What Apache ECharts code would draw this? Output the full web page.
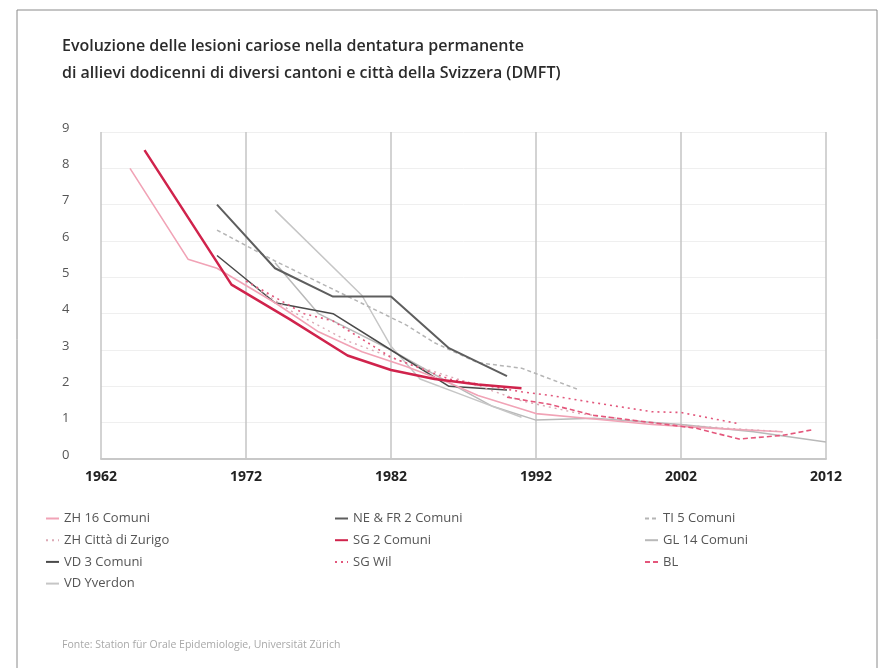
<!DOCTYPE html>
<html>
<head>
<meta charset="utf-8">
<script src="https://cdn.jsdelivr.net/npm/echarts@6/dist/echarts.min.js"></script>
<style>
html,body{margin:0;padding:0;background:#fff;}
#c{width:884px;height:668px;}
</style>
</head>
<body>
<div id="c"></div>
<script>
// ---- data (year, DMFT) ----
var xTicks = [1962, 1972, 1982, 1992, 2002, 2012];
var yTicks = [0,1,2,3,4,5,6,7,8,9];

var zh16 = [[1964,8.0],[1968,5.5],[1970,5.25],[1974,4.3],[1977,3.5],[1980,2.95],[1983,2.55],[1986,2.1],[1988,1.75],[1992,1.25],[1996,1.1],[2000,0.95],[2004,0.85],[2009,0.75]];
var zhCitta = [[1972,4.9],[1975,4.1],[1979,3.25],[1983,2.65],[1987,2.15],[1991,1.6],[1995,1.25],[2000,1.0],[2005,0.85],[2009,0.75]];
var vd3 = [[1970,5.6],[1974,4.3],[1978,4.0],[1982,3.0],[1986,2.0],[1990,1.9]];
var vdYverdon = [[1974,6.85],[1980,4.5],[1982,3.1],[1984,2.2],[1987,1.75],[1991,1.15]];
var neFr = [[1970,7.0],[1974,5.25],[1978,4.47],[1982,4.47],[1986,3.05],[1990,2.28]];
var sg2 = [[1965,8.5],[1971,4.8],[1975,3.85],[1979,2.85],[1982,2.45],[1985,2.2],[1988,2.05],[1991,1.95]];
var sgWil = [[1972,4.9],[1976,4.0],[1978,3.8],[1982,2.8],[1986,2.2],[1991,1.85],[1993,1.75],[1996,1.55],[2000,1.3],[2002,1.28],[2006,0.97]];
var ti5 = [[1970,6.3],[1974,5.45],[1983,3.7],[1985,3.2],[1988,2.65],[1991,2.5],[1995,1.9]];
var gl14 = [[1974,5.4],[1977,4.0],[1982,3.0],[1986,2.1],[1989,1.45],[1992,1.07],[1996,1.12],[2002,0.95],[2007,0.75],[2012,0.47]];
var bl = [[1990,1.7],[1993,1.5],[1996,1.2],[2000,1.0],[2003,0.85],[2006,0.55],[2009,0.65],[2011,0.8]];

var names = ['ZH 16 Comuni','ZH Città di Zurigo','VD 3 Comuni','VD Yverdon','NE & FR 2 Comuni','SG 2 Comuni','SG Wil','TI 5 Comuni','GL 14 Comuni','BL'];

function s(name, data, color, width, type) {
  return {
    name: name, type: 'line', data: data, symbol: 'none', smooth: false,
    lineStyle: {color: color, width: width, type: type || 'solid'},
    itemStyle: {color: color},
    z: 3
  };
}

function legend(items, left) {
  return {
    data: items, orient: 'vertical', left: left, top: 512, padding: 0,
    itemWidth: 13, itemHeight: 8, itemGap: 8.7,
    itemStyle: {opacity: 0},
    textStyle: {color: '#555', fontSize: 13, fontFamily: 'Open Sans'}
  };
}

var chart = echarts.init(document.getElementById('c'));
chart.setOption({
  animation: false,
  backgroundColor: '#fff',
  title: {
    text: 'Evoluzione delle lesioni cariose nella dentatura permanente\ndi allievi dodicenni di diversi cantoni e città della Svizzera (DMFT)',
    left: 62, top: 33, padding: 0,
    textStyle: {fontFamily: 'Open Sans', fontWeight: 600, fontSize: 16, color: '#2b2b2b', lineHeight: 27}
  },
  graphic: [
    {type: 'rect', shape: {x: 17, y: 10, width: 860, height: 700}, style: {fill: 'none', stroke: '#8a8a8a', lineWidth: 1}, silent: true},
    {type: 'text', left: 62, top: 640, style: {text: 'Fonte: Station für Orale Epidemiologie, Universität Zürich', fill: '#a8a8a8', fontSize: 10.5, fontFamily: 'Open Sans'}}
  ],
  grid: {left: 101, right: 58, top: 132, bottom: 209, containLabel: false},
  xAxis: {
    type: 'value', min: 1962, max: 2012, interval: 10,
    axisLine: {show: true, lineStyle: {color: '#c8c8c8', width: 2}},
    axisTick: {show: false},
    splitLine: {show: true, lineStyle: {color: '#c4c4c4', width: 1.5}},
    axisLabel: {margin: 11, color: '#222', fontWeight: 'bold', fontSize: 14, fontFamily: 'Open Sans', formatter: function (v) { return String(v); }}
  },
  yAxis: {
    type: 'value', min: 0, max: 9, interval: 1,
    axisLine: {show: false}, axisTick: {show: false},
    splitLine: {show: true, lineStyle: {color: '#efefef', width: 1}},
    axisLabel: {align: 'left', margin: 39, color: '#555', fontSize: 13, fontFamily: 'Open Sans', verticalAlign: 'bottom', lineHeight: 8}
  },
  legend: [
    legend(['ZH 16 Comuni','ZH Città di Zurigo','VD 3 Comuni','VD Yverdon'], 45),
    legend(['NE & FR 2 Comuni','SG 2 Comuni','SG Wil'], 334),
    legend(['TI 5 Comuni','GL 14 Comuni','BL'], 644)
  ],
  series: [
    s(names[8], gl14, '#b9b9b9', 1.5),
    s(names[3], vdYverdon, '#c6c6c6', 1.5),
    s(names[7], ti5, '#b5b5b5', 1.5, [4, 3]),
    s(names[2], vd3, '#4a4a4a', 1.5),
    s(names[4], neFr, '#5e5e5e', 2),
    s(names[0], zh16, '#f1a3b6', 1.6),
    s(names[1], zhCitta, '#dba9b5', 1.4, [2, 4]),
    s(names[6], sgWil, '#e2577c', 1.6, [2, 4]),
    s(names[9], bl, '#e4567b', 1.6, [5, 3]),
    s(names[5], sg2, '#d0234c', 2.5)
  ]
});
</script>
</body>
</html>
